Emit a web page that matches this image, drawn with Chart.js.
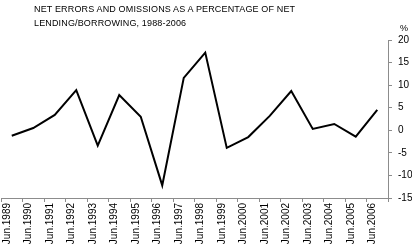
<!DOCTYPE html>
<html>
<head>
<meta charset="utf-8">
<script src="https://cdn.jsdelivr.net/npm/chart.js@4.4.1/dist/chart.umd.min.js"></script>
<style>
  html, body { margin: 0; padding: 0; background: #fff; }
  #wrap { position: relative; width: 412px; height: 252px; overflow: hidden; }
  #chart { position: absolute; left: 0; top: 0; }
  .title {
    position: absolute; left: 34px; top: 2px;
    font: 9px "Liberation Sans", Arial, sans-serif; line-height: 14px; color: #000;
    letter-spacing: 0.15px;
  }
  .unit {
    position: absolute; left: 400px; top: 23px;
    font: 9px "Liberation Sans", Arial, sans-serif; color: #000;
  }
</style>
</head>
<body>
<div id="wrap">
  <canvas id="chart" width="412" height="252"></canvas>
  <div class="title">NET ERRORS AND OMISSIONS AS A PERCENTAGE OF NET<br>LENDING/BORROWING, 1988-2006</div>
  <div class="unit">%</div>
</div>
<script>
// x labels, one per June
const years = ['Jun.1989', 'Jun.1990', 'Jun.1991', 'Jun.1992', 'Jun.1993', 'Jun.1994',
  'Jun.1995', 'Jun.1996', 'Jun.1997', 'Jun.1998', 'Jun.1999', 'Jun.2000',
  'Jun.2001', 'Jun.2002', 'Jun.2003', 'Jun.2004', 'Jun.2005', 'Jun.2006'];

// net errors and omissions, % of net lending/borrowing
const netErrors = [-1.2, 0.5, 3.4, 8.9, -3.4, 7.8, 3.0, -12.2, 11.6, 17.2,
  -3.9, -1.5, 3.2, 8.7, 0.3, 1.4, -1.4, 4.5];

const yMin = -15;
const yMax = 20;
const yStep = 5;

const axisColor = '#8c8c8c';
const tickFont = { family: '"Liberation Sans", Arial, sans-serif', size: 10 };

new Chart(document.getElementById('chart').getContext('2d'), {
  type: 'line',
  data: {
    labels: years,
    datasets: [{
      data: netErrors,
      borderColor: '#000',
      borderWidth: 2,
      pointRadius: 0,
      tension: 0,
      fill: false
    }]
  },
  options: {
    responsive: false,
    animation: false,
    devicePixelRatio: 1,
    layout: { padding: { top: 40, left: 1, right: 0, bottom: 0 } },
    plugins: {
      legend: { display: false },
      title: { display: false },
      tooltip: { enabled: false }
    },
    scales: {
      x: {
        offset: true,
        grid: { offset: true, drawOnChartArea: false, drawTicks: true, tickLength: 4, color: axisColor },
        border: { display: true, color: axisColor },
        ticks: {
          autoSkip: false,
          minRotation: 90,
          maxRotation: 90,
          padding: 1,
          labelOffset: -5,
          color: '#000',
          font: tickFont
        },
        afterFit(scale) { scale.height = 54; }
      },
      y: {
        position: 'right',
        min: yMin,
        max: yMax,
        grid: { drawOnChartArea: false, drawTicks: true, tickLength: 4, color: axisColor },
        border: { display: true, color: axisColor },
        ticks: {
          stepSize: yStep,
          padding: 6,
          color: '#000',
          font: tickFont
        },
        afterFit(scale) { scale.width = 24; }
      }
    }
  }
});
</script>
</body>
</html>
